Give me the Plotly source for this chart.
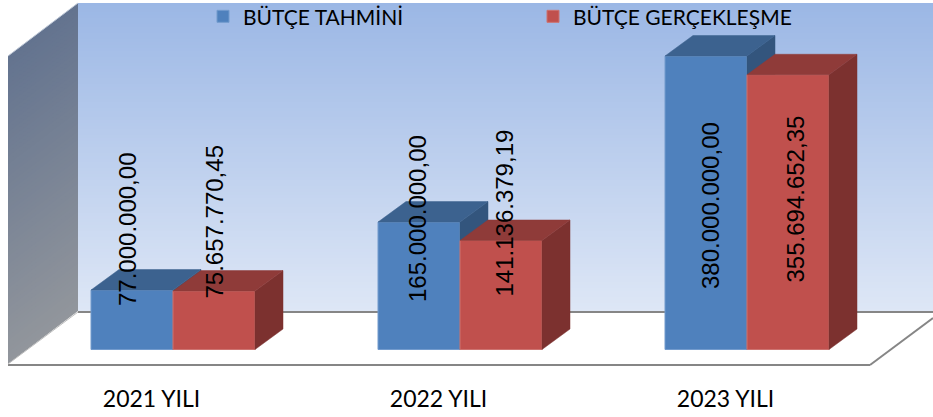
import plotly.graph_objects as go

# ---- data ----
categories = ["2021 YILI", "2022 YILI", "2023 YILI"]
series_names = ["BÜTÇE TAHMİNİ", "BÜTÇE GERÇEKLEŞME"]
butce_tahmini = [77000000.00, 165000000.00, 380000000.00]
butce_gerceklesme = [75657770.45, 141136379.19, 355694652.35]
label_tahmini = ["77.000.000,00", "165.000.000,00", "380.000.000,00"]
label_gerceklesme = ["75.657.770,45", "141.136.379,19", "355.694.652,35"]

# ---- layout geometry (pixels) ----
W, H = 933, 417
M_B = 34
PLOT_H = H - M_B
BASE_PX = 349.5
UNIT_X = 287.0
TICK0_PX = 151.5
Y_SCALE = 293.5 / 380e6     # px per value
BAR_W = 82 / UNIT_X
BAR_SHIFT = 21.5 / UNIT_X
DX = 28 / UNIT_X
DY = 20.5 / Y_SCALE
FONT_CAL = "Lato"
FONT_ARIAL = "Liberation Sans"


def px_x(p):
    return (p - TICK0_PX) / UNIT_X


def px_y(p):
    return (BASE_PX - p) / Y_SCALE


def lerp(a, b, t):
    return tuple(round(a[i] + (b[i] - a[i]) * t) for i in range(3))


def rgb(c):
    return f"rgb({c[0]},{c[1]},{c[2]})"


def poly(points, **kw):
    d = "M" + " L".join(f"{px_x(x)},{px_y(y)}" for x, y in points) + " Z"
    return dict(type="path", path=d, xref="x", yref="y", layer="below", **kw)


def line(x0, y0, x1, y1, color, width):
    return dict(type="line", x0=px_x(x0), y0=px_y(y0), x1=px_x(x1), y1=px_y(y1),
                xref="x", yref="y", layer="below", line=dict(color=color, width=width))


shapes = []
# back wall gradient
N = 103
top_c, bot_c = (155, 183, 229), (222, 231, 246)
for i in range(N):
    y0 = 3 + 309 * i / N
    y1 = min(3 + 309 * (i + 1) / N + 1.5, 312)
    c = rgb(lerp(top_c, bot_c, (i + 0.5) / N))
    shapes.append(poly([(78, y0), (933, y0), (933, y1), (78, y1)],
                       fillcolor=c, line=dict(width=0)))
# left wall gradient
N = 77
top_c, bot_c = (99, 115, 143), (146, 150, 156)
for i in range(N):
    a0 = 308 * i / N
    a1 = min(308 * (i + 1) / N + 2.5, 308)
    c = rgb(lerp(top_c, bot_c, (i + 0.5) / N))
    shapes.append(poly([(8, 56 + a0), (78, 3 + a0), (78, 3 + a1), (8, 56 + a1)],
                       fillcolor=c, line=dict(width=0)))
# floor / frame outlines
GREY = "rgb(134,134,134)"
shapes += [
    line(78, 312, 933, 312, GREY, 2),
    line(8, 365, 870, 365, GREY, 2),
    line(870, 365, 933, 318, GREY, 2),
    line(8, 364, 78, 312, "rgb(190,190,190)", 1),
    line(8, 56, 78, 3, "rgb(190,200,215)", 1),
]

fig = go.Figure()

styles = [
    dict(front="rgb(79,129,189)", top="rgb(60,98,143)", side="rgb(51,85,125)",
         edge="rgb(115,155,205)", off=-0.5, xa="x", ya="y"),
    dict(front="rgb(192,80,77)", top="rgb(143,59,57)", side="rgb(124,49,47)",
         edge="rgb(205,115,112)", off=0.5, xa="x2", ya="y2"),
]
series = [butce_tahmini, butce_gerceklesme]

# each series sits on its own overlaid subplot so the second covers the first
for name, vals, st in zip(series_names, series, styles):
    xs = [i + BAR_SHIFT + st["off"] * BAR_W for i in range(len(vals))]
    fig.add_trace(go.Bar(x=xs, y=vals, width=BAR_W, name=name, base=0,
                         xaxis=st["xa"], yaxis=st["ya"],
                         marker=dict(color=st["front"], line=dict(color=st["edge"], width=1)),
                         hoverinfo="skip"))

# depth faces derived from the same values
for vals, st in zip(series, styles):
    for i, v in enumerate(vals):
        xc = i + BAR_SHIFT + st["off"] * BAR_W
        xl, xr = xc - BAR_W / 2, xc + BAR_W / 2
        fig.add_trace(go.Scatter(
            x=[xr, xr + DX, xr + DX, xr, xr], y=[0, DY, v + DY, v, 0],
            xaxis=st["xa"], yaxis=st["ya"],
            mode="lines", fill="toself", fillcolor=st["side"], line=dict(width=0.5, color=st["side"]),
            showlegend=False, hoverinfo="skip"))
        fig.add_trace(go.Scatter(
            x=[xl, xl + DX, xr + DX, xr, xl], y=[v, v + DY, v + DY, v, v],
            xaxis=st["xa"], yaxis=st["ya"],
            mode="lines", fill="toself", fillcolor=st["top"], line=dict(width=0.5, color=st["top"]),
            showlegend=False, hoverinfo="skip"))

# rotated value labels: centres in pixels
label_x_px = [[127, 417, 710], [214, 504, 795]]
label_y_px = [[230, 219, 206], [222.5, 213.5, 199.5]]
annotations = []
for labels, xp, yp in zip([label_tahmini, label_gerceklesme], label_x_px, label_y_px):
    for t, x, y in zip(labels, xp, yp):
        annotations.append(dict(x=px_x(x), y=px_y(y), xref="x", yref="y", text=t, textangle=-90,
                                showarrow=False, xanchor="center", yanchor="middle",
                                font=dict(family=FONT_ARIAL, size=24, color="black")))

x_range = [px_x(0), px_x(W)]
y_range = [px_y(PLOT_H), px_y(0)]
fig.update_layout(
    width=W, height=H, autosize=False,
    margin=dict(l=0, r=0, t=0, b=M_B, pad=0, autoexpand=False),
    paper_bgcolor="white", plot_bgcolor="white",
    barmode="overlay", showlegend=True,
    shapes=shapes, annotations=annotations,
    legend=dict(orientation="h", x=203 / W, y=1.01,
                xanchor="left", yanchor="top",
                bgcolor="rgba(0,0,0,0)", borderwidth=0,
                font=dict(family=FONT_CAL, size=21, color="black"),
                entrywidth=285, entrywidthmode="pixels", traceorder="normal"),
    xaxis=dict(range=x_range, tickmode="array", tickvals=list(range(len(categories))),
               ticktext=categories, showgrid=False, zeroline=False, showline=False, ticks="",
               tickfont=dict(family=FONT_CAL, size=23, color="black"), tickangle=0, fixedrange=True),
    yaxis=dict(range=y_range, visible=False, fixedrange=True),
    xaxis2=dict(range=x_range, overlaying="x", visible=False, fixedrange=True),
    yaxis2=dict(range=y_range, overlaying="y", visible=False, fixedrange=True),
)

fig.write_html("out.html", config=dict(displayModeBar=False),
               post_script="document.body.style.margin='0';document.documentElement.style.overflow='hidden';")
